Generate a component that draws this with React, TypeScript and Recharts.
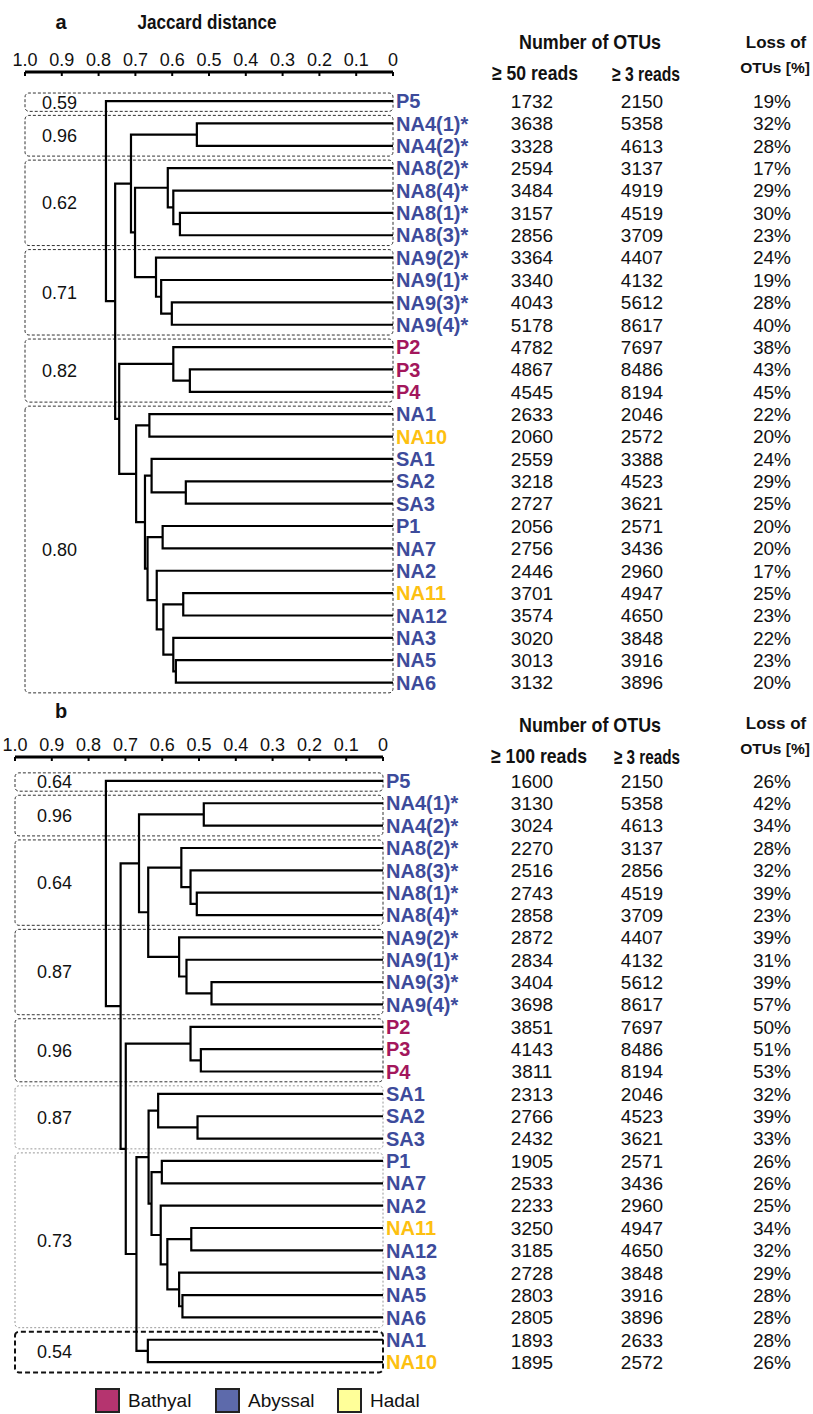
import React from 'react';
import { ScatterChart, Scatter, XAxis, YAxis, ReferenceArea } from 'recharts';

const FONT = "'Liberation Sans', Arial, Helvetica, sans-serif";

// ---- panel a (>= 50 reads) ----
const LEAVES_A = ['P5', 'NA4(1)*', 'NA4(2)*', 'NA8(2)*', 'NA8(4)*', 'NA8(1)*', 'NA8(3)*', 'NA9(2)*', 'NA9(1)*', 'NA9(3)*', 'NA9(4)*', 'P2', 'P3', 'P4', 'NA1', 'NA10', 'SA1', 'SA2', 'SA3', 'P1', 'NA7', 'NA2', 'NA11', 'NA12', 'NA3', 'NA5', 'NA6'];
const OTU_HIGH_A = [1732, 3638, 3328, 2594, 3484, 3157, 2856, 3364, 3340, 4043, 5178, 4782, 4867, 4545, 2633, 2060, 2559, 3218, 2727, 2056, 2756, 2446, 3701, 3574, 3020, 3013, 3132];
const OTU_LOW_A = [2150, 5358, 4613, 3137, 4919, 4519, 3709, 4407, 4132, 5612, 8617, 7697, 8486, 8194, 2046, 2572, 3388, 4523, 3621, 2571, 3436, 2960, 4947, 4650, 3848, 3916, 3896];
const LOSS_A = [19, 32, 28, 17, 29, 30, 23, 24, 19, 28, 40, 38, 43, 45, 22, 20, 24, 29, 25, 20, 20, 17, 25, 23, 22, 23, 20];
// [node, left, right, Jaccard distance]
const MERGES_A: [string, string, string, number][] = [
  ['a1', 'NA4(1)*', 'NA4(2)*', 0.533],
  ['a2', 'NA8(1)*', 'NA8(3)*', 0.579],
  ['a3', 'NA8(4)*', 'a2', 0.597],
  ['a4', 'NA8(2)*', 'a3', 0.612],
  ['a5', 'NA9(3)*', 'NA9(4)*', 0.601],
  ['a6', 'NA9(1)*', 'a5', 0.63],
  ['a7', 'NA9(2)*', 'a6', 0.644],
  ['a8', 'a4', 'a7', 0.701],
  ['a9', 'a1', 'a8', 0.712],
  ['a10', 'P3', 'P4', 0.552],
  ['a11', 'P2', 'a10', 0.597],
  ['a12', 'NA1', 'NA10', 0.662],
  ['a13', 'SA2', 'SA3', 0.563],
  ['a14', 'SA1', 'a13', 0.656],
  ['a15', 'P1', 'NA7', 0.626],
  ['a16', 'NA11', 'NA12', 0.57],
  ['a17', 'NA5', 'NA6', 0.59],
  ['a18', 'NA3', 'a17', 0.597],
  ['a19', 'a16', 'a18', 0.624],
  ['a20', 'NA2', 'a19', 0.642],
  ['a21', 'a15', 'a20', 0.667],
  ['a22', 'a14', 'a21', 0.674],
  ['a23', 'a12', 'a22', 0.698],
  ['a24', 'a11', 'a23', 0.744],
  ['a25', 'a9', 'a24', 0.755],
  ['a26', 'P5', 'a25', 0.78],
];
const GROUPS_A: [string, string, string][] = [
  ['P5', 'P5', '0.59'],
  ['NA4(1)*', 'NA4(2)*', '0.96'],
  ['NA8(2)*', 'NA8(3)*', '0.62'],
  ['NA9(2)*', 'NA9(4)*', '0.71'],
  ['P2', 'P4', '0.82'],
  ['NA1', 'NA6', '0.80'],
];

// ---- panel b (>= 100 reads) ----
const LEAVES_B = ['P5', 'NA4(1)*', 'NA4(2)*', 'NA8(2)*', 'NA8(3)*', 'NA8(1)*', 'NA8(4)*', 'NA9(2)*', 'NA9(1)*', 'NA9(3)*', 'NA9(4)*', 'P2', 'P3', 'P4', 'SA1', 'SA2', 'SA3', 'P1', 'NA7', 'NA2', 'NA11', 'NA12', 'NA3', 'NA5', 'NA6', 'NA1', 'NA10'];
const OTU_HIGH_B = [1600, 3130, 3024, 2270, 2516, 2743, 2858, 2872, 2834, 3404, 3698, 3851, 4143, 3811, 2313, 2766, 2432, 1905, 2533, 2233, 3250, 3185, 2728, 2803, 2805, 1893, 1895];
const OTU_LOW_B = [2150, 5358, 4613, 3137, 2856, 4519, 3709, 4407, 4132, 5612, 8617, 7697, 8486, 8194, 2046, 4523, 3621, 2571, 3436, 2960, 4947, 4650, 3848, 3916, 3896, 2633, 2572];
const LOSS_B = [26, 42, 34, 28, 32, 39, 23, 39, 31, 39, 57, 50, 51, 53, 32, 39, 33, 26, 26, 25, 34, 32, 29, 28, 28, 28, 26];
const MERGES_B: [string, string, string, number][] = [
  ['b1', 'NA4(1)*', 'NA4(2)*', 0.487],
  ['b2', 'NA8(1)*', 'NA8(4)*', 0.506],
  ['b3', 'NA8(3)*', 'b2', 0.523],
  ['b4', 'NA8(2)*', 'b3', 0.548],
  ['b5', 'NA9(3)*', 'NA9(4)*', 0.466],
  ['b6', 'NA9(1)*', 'b5', 0.534],
  ['b7', 'NA9(2)*', 'b6', 0.554],
  ['b8', 'b4', 'b7', 0.638],
  ['b9', 'b1', 'b8', 0.663],
  ['b10', 'P3', 'P4', 0.495],
  ['b11', 'P2', 'b10', 0.523],
  ['b12', 'SA2', 'SA3', 0.504],
  ['b13', 'SA1', 'b12', 0.611],
  ['b14', 'P1', 'NA7', 0.601],
  ['b15', 'NA11', 'NA12', 0.521],
  ['b16', 'NA5', 'NA6', 0.545],
  ['b17', 'NA3', 'b16', 0.554],
  ['b18', 'b15', 'b17', 0.586],
  ['b19', 'NA2', 'b18', 0.604],
  ['b20', 'b14', 'b19', 0.629],
  ['b21', 'b13', 'b20', 0.637],
  ['b22', 'NA1', 'NA10', 0.639],
  ['b23', 'b21', 'b22', 0.67],
  ['b24', 'b11', 'b23', 0.699],
  ['b25', 'b9', 'b24', 0.713],
  ['b26', 'P5', 'b25', 0.753],
];
const GROUPS_B: [string, string, string][] = [
  ['P5', 'P5', '0.64'],
  ['NA4(1)*', 'NA4(2)*', '0.96'],
  ['NA8(2)*', 'NA8(4)*', '0.64'],
  ['NA9(2)*', 'NA9(4)*', '0.87'],
  ['P2', 'P4', '0.96'],
  ['SA1', 'SA3', '0.87'],
  ['P1', 'NA6', '0.73'],
  ['NA1', 'NA10', '0.54'],
];
const BOX_KIND_B = ['dash', 'dash', 'dash', 'dash', 'dash', 'dot', 'dot', 'bold'];

const DIST_TICKS = [0, 0.1, 0.2, 0.3, 0.4, 0.5, 0.6, 0.7, 0.8, 0.9, 1];
const BATHYAL = ['P2', 'P3', 'P4'];
const HADAL = ['NA10', 'NA11'];

const ZONES = [
  { name: 'Bathyal', color: '#b5346f' },
  { name: 'Abyssal', color: '#5d6aab' },
  { name: 'Hadal', color: '#ffff99' },
];

const leafColor = (name: string) =>
  BATHYAL.includes(name) ? '#a3175c' : HADAL.includes(name) ? '#fdc010' : '#3d4b9b';

// elbow links of the dendrogram, leaves sit at distance 0
function buildLinks(leaves: string[], merges: [string, string, string, number][]) {
  const pos: Record<string, { x: number; y: number }> = {};
  leaves.forEach((n, i) => (pos[n] = { x: 0, y: i }));
  return merges.map(([id, l, r, h]) => {
    const a = pos[l];
    const b = pos[r];
    pos[id] = { x: h, y: (a.y + b.y) / 2 };
    return [
      { x: a.x, y: a.y },
      { x: h, y: a.y },
      { x: h, y: b.y },
      { x: b.x, y: b.y },
    ];
  });
}

const noDot = () => <g />;

function DistTick(props: any) {
  const { x, y, payload } = props;
  const v = payload.value;
  const label = v === 0 ? '0' : v === 1 ? '1.0' : v.toFixed(1);
  return (
    <g>
      <text x={x} y={y} textAnchor="middle" fontSize={18} fontFamily={FONT} fill="#111">
        {label}
      </text>
      <line x1={x} x2={x} y1={y + 6} y2={y + 10} stroke="#000" strokeWidth={2} />
    </g>
  );
}

function LeafTick(props: any) {
  const { x, y, payload, leaves, high, low, loss } = props;
  const i = Math.round(payload.value);
  const name = leaves[i];
  if (name === undefined) return <g />;
  const num = { fontSize: 19, fontFamily: FONT, fill: '#111', textAnchor: 'middle' as const };
  return (
    <g>
      <text x={x} y={y} dy="0.36em" fill={leafColor(name)} fontWeight="bold" fontSize={20} fontFamily={FONT}>
        {name}
      </text>
      <text x={532} y={y} dy="0.36em" {...num}>{high[i]}</text>
      <text x={642} y={y} dy="0.36em" {...num}>{low[i]}</text>
      <text x={772} y={y} dy="0.36em" {...num}>{loss[i]}%</text>
    </g>
  );
}

const BOX_STYLE: Record<string, any> = {
  dash: { stroke: '#333', strokeDasharray: '3 2', strokeWidth: 1 },
  dot: { stroke: '#999', strokeDasharray: '2 2', strokeWidth: 1 },
  bold: { stroke: '#111', strokeDasharray: '5 3', strokeWidth: 2 },
};

function Dendrogram(props: {
  leaves: string[];
  merges: [string, string, string, number][];
  groups: [string, string, string][];
  kinds: string[];
  high: number[];
  low: number[];
  loss: number[];
  left: number;
  axisWidth: number;
  top: number;
  bottom: number;
  domain: [number, number];
  labelOffset: number;
}) {
  const { leaves, merges, groups, kinds, high, low, loss } = props;
  const links = buildLinks(leaves, merges);
  const ticks = leaves.map((_, i) => i);
  return (
    <ScatterChart width={813} height={700} margin={{ top: props.top, right: 0, bottom: props.bottom, left: props.left }}>
      <XAxis
        type="number"
        dataKey="x"
        orientation="top"
        domain={[0, 1]}
        reversed
        ticks={DIST_TICKS}
        interval={0}
        height={40}
        tickLine={false}
        tickSize={6}
        tickMargin={0}
        axisLine={{ stroke: '#000', strokeWidth: 3 }}
        tick={<DistTick />}
      />
      <YAxis
        type="number"
        dataKey="y"
        orientation="right"
        domain={props.domain}
        reversed
        ticks={ticks}
        interval={0}
        width={props.axisWidth}
        axisLine={false}
        tickLine={false}
        tickSize={0}
        tickMargin={3}
        tick={(p: any) => <LeafTick {...p} leaves={leaves} high={high} low={low} loss={loss} />}
      />
      {groups.map(([first, last, value], i) => (
        <ReferenceArea
          key={'g' + i}
          x1={1}
          x2={0}
          y1={leaves.indexOf(first) - 0.36}
          y2={leaves.indexOf(last) + 0.46}
          fill="none"
          radius={4}
          ifOverflow="visible"
          {...BOX_STYLE[kinds[i]]}
          label={{ value, position: 'insideLeft', offset: props.labelOffset, fontSize: 18, fill: '#111', fontFamily: FONT }}
        />
      ))}
      {links.map((pts, i) => (
        <Scatter
          key={'l' + i}
          data={pts}
          line={{ stroke: '#000', strokeWidth: 2.2 }}
          shape={noDot}
          isAnimationActive={false}
        />
      ))}
    </ScatterChart>
  );
}

const head = { fontFamily: FONT, fontWeight: 'bold' as const, fontSize: 21, fill: '#111', textAnchor: 'middle' as const, lengthAdjust: 'spacingAndGlyphs' as const };
const loss = { fontFamily: FONT, fontWeight: 'bold' as const, fill: '#111', textAnchor: 'middle' as const };

export default function App() {
  return (
    <div style={{ position: 'absolute', left: 0, top: 0, width: 813, height: 1414, background: '#fff', fontFamily: FONT }}>
      <div style={{ position: 'absolute', left: 0, top: 0 }}>
        <Dendrogram
          leaves={LEAVES_A}
          merges={MERGES_A}
          groups={GROUPS_A}
          kinds={GROUPS_A.map(() => 'dash')}
          high={OTU_HIGH_A}
          low={OTU_LOW_A}
          loss={LOSS_A}
          left={25}
          axisWidth={420}
          top={32}
          bottom={4}
          domain={[-1.3, 26.6]}
          labelOffset={17}
        />
      </div>
      <div style={{ position: 'absolute', left: 0, top: 690 }}>
        <Dendrogram
          leaves={LEAVES_B}
          merges={MERGES_B}
          groups={GROUPS_B}
          kinds={BOX_KIND_B}
          high={OTU_HIGH_B}
          low={OTU_LOW_B}
          loss={LOSS_B}
          left={15}
          axisWidth={430}
          top={27}
          bottom={10}
          domain={[-1.07, 26.8]}
          labelOffset={22}
        />
      </div>
      <svg width={813} height={1414} style={{ position: 'absolute', left: 0, top: 0, pointerEvents: 'none' }}>
        <text x={61} y={22} dy="0.35em" {...head} fontSize={20}>a</text>
        <text x={207} y={22} dy="0.35em" {...head} textLength={139}>Jaccard distance</text>
        <text x={590} y={42} dy="0.35em" {...head} textLength={142}>Number of  OTUs</text>
        <text x={535} y={73} dy="0.35em" {...head} textLength={86}>≥ 50 reads</text>
        <text x={646} y={74} dy="0.35em" {...head} textLength={68}>≥ 3 reads</text>
        <text x={776} y={42} dy="0.35em" {...loss} fontSize={17}>Loss of</text>
        <text x={775} y={68} dy="0.35em" {...loss} fontSize={15.5}>OTUs [%]</text>

        <text x={61} y={711} dy="0.35em" {...head} fontSize={20}>b</text>
        <text x={590} y={725} dy="0.35em" {...head} textLength={142}>Number of  OTUs</text>
        <text x={539} y={756} dy="0.35em" {...head} textLength={96}>≥ 100 reads</text>
        <text x={647} y={757} dy="0.35em" {...head} textLength={66}>≥ 3 reads</text>
        <text x={776} y={723} dy="0.35em" {...loss} fontSize={17}>Loss of</text>
        <text x={775} y={749} dy="0.35em" {...loss} fontSize={15.5}>OTUs [%]</text>
      </svg>
      {ZONES.map((z, i) => (
        <div key={z.name} style={{ position: 'absolute', left: [95, 215, 337][i], top: 1388, display: 'flex', alignItems: 'center' }}>
          <div style={{ width: 25, height: 25, boxSizing: 'border-box', border: '2.5px solid #222', background: z.color }} />
          <span style={{ marginLeft: 8, fontSize: 19, color: '#111', lineHeight: '25px' }}>{z.name}</span>
        </div>
      ))}
    </div>
  );
}
